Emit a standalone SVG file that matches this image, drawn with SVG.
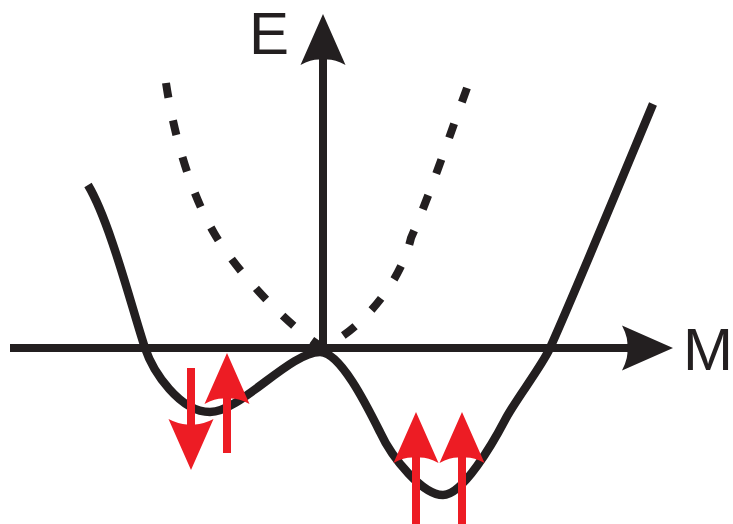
<svg xmlns="http://www.w3.org/2000/svg" width="733" height="524" viewBox="0 0 733 524">
  <defs>
    <path id="ah" d="M0,0 L22.5,51 Q9,44 0,46 Q-9,44 -22.5,51 Z"/>
    <style>
      .ax { stroke: #231F20; stroke-width: 8; fill: none; }
      .curve { stroke: #231F20; stroke-width: 8.5; fill: none; stroke-linecap: butt; }
      .dash { stroke: #231F20; stroke-width: 8; fill: none; stroke-dasharray: 15 23; stroke-linecap: butt; }
      .spin { stroke: #ED1C24; stroke-width: 8; fill: none; }
      .redhead { fill: #ED1C24; }
      .blackhead { fill: #231F20; }
      .lbl { font-family: "Liberation Sans", Arial, sans-serif; font-size: 60px; fill: #231F20; }
    </style>
  </defs>
  <rect width="733" height="524" fill="#ffffff"/>

  <g id="dashed-parabola">
    <path class="dash" d="M166,83 C173.5,132.5 189,190 214,233 C233,266 282,322 322,347"/>
    <path class="dash" d="M467,88 C450,134 431,192 411,238 C400,285 360,330 324,347"/>
  </g>

  <g id="energy-curve">
    <path class="curve" d="M88,185 C110,222 131,305 145,348 C153,372 180,412 210,412 C240,412 290,352 320,352 C340,352 366,404 380,432 C392.6,459.3 423,495 443,495 C463,495 493.5,442 505,420 C514,402 542,366 550,348 C574.6,293.4 630,159 653,104"/>
  </g>

  <g id="axes">
    <g id="axis-M">
      <line class="ax" x1="10" y1="348" x2="630" y2="348"/>
      <use href="#ah" class="blackhead" transform="translate(673,348) rotate(90)"/>
    </g>
    <g id="axis-E">
      <line class="ax" x1="323" y1="58" x2="323" y2="350"/>
      <use href="#ah" class="blackhead" transform="translate(323,14)"/>
    </g>
  </g>

  <g id="spins">
    <g id="spin-left-down">
      <line class="spin" x1="191" y1="368" x2="191" y2="425"/>
      <use href="#ah" class="redhead" transform="translate(191,470) rotate(180)"/>
    </g>
    <g id="spin-left-up">
      <line class="spin" x1="227" y1="453" x2="227" y2="398"/>
      <use href="#ah" class="redhead" transform="translate(227,353)"/>
    </g>
    <g id="spin-right-up-1">
      <line class="spin" x1="416" y1="524" x2="416" y2="456"/>
      <use href="#ah" class="redhead" transform="translate(416,412)"/>
    </g>
    <g id="spin-right-up-2">
      <line class="spin" x1="462" y1="524" x2="462" y2="456"/>
      <use href="#ah" class="redhead" transform="translate(462,412)"/>
    </g>
  </g>

  <g id="labels">
    <text id="label-E" class="lbl" x="249" y="54">E</text>
    <text id="label-M" class="lbl" x="683" y="370">M</text>
  </g>
</svg>
